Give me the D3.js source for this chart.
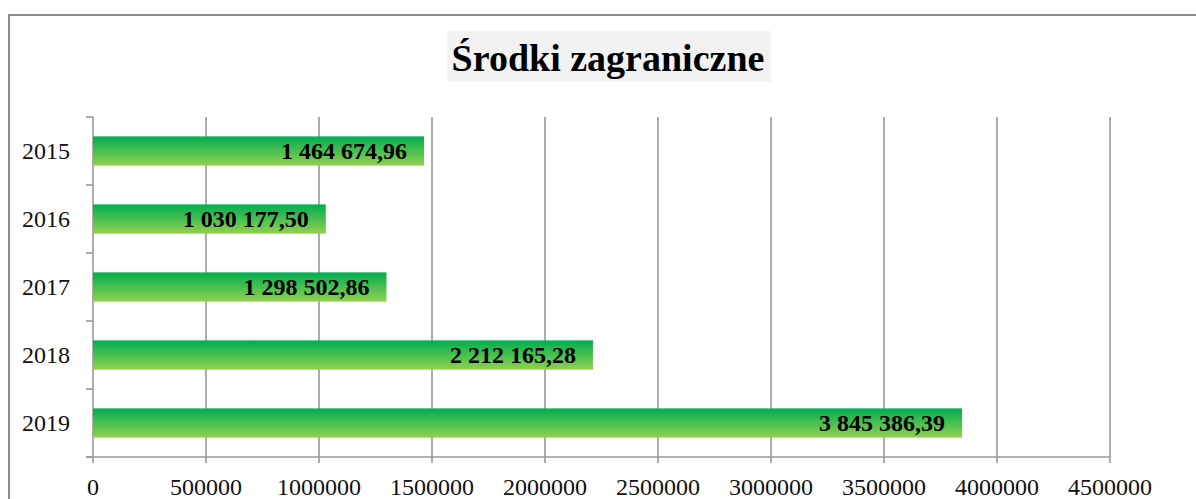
<!DOCTYPE html>
<html>
<head>
<meta charset="utf-8">
<script src="https://cdn.jsdelivr.net/npm/d3@7"></script>
<style>
  body { margin: 0; background: #fff; }
  svg { display: block; font-family: "Liberation Serif", "DejaVu Serif", serif; }
</style>
</head>
<body>
<svg class="chart" width="1196" height="499"></svg>
<script>
const years = ["2015", "2016", "2017", "2018", "2019"];
const values = [1464674.96, 1030177.50, 1298502.86, 2212165.28, 3845386.39];
const xTicks = [0, 500000, 1000000, 1500000, 2000000, 2500000, 3000000, 3500000, 4000000, 4500000];
const title = "Środki zagraniczne";

const data = years.map((y, i) => ({ year: y, value: values[i] }));

const svg = d3.select(".chart");
const width = 1196;
const height = 499;
const margin = { top: 117, right: 86, bottom: 42, left: 93 };
const graphWidth = width - margin.left - margin.right;
const graphHeight = height - margin.top - margin.bottom;

// outer chart frame (runs off the right/bottom of the picture)
svg.append("rect")
  .attr("x", 9).attr("y", 15)
  .attr("width", 1220).attr("height", 520)
  .attr("fill", "none")
  .attr("stroke", "#8c8c8c")
  .attr("stroke-width", 2);

const defs = svg.append("defs");
const grad = defs.append("linearGradient")
  .attr("id", "barGrad")
  .attr("x1", 0).attr("y1", 0).attr("x2", 0).attr("y2", 1);
grad.append("stop").attr("offset", "0%").attr("stop-color", "#00ae4f");
grad.append("stop").attr("offset", "100%").attr("stop-color", "#92d050");

// title with grey box
const titleG = svg.append("g");
titleG.append("rect")
  .attr("x", 447).attr("y", 31)
  .attr("width", 324).attr("height", 51)
  .attr("fill", "#f2f2f2");
titleG.append("text")
  .attr("x", 608).attr("y", 71)
  .attr("text-anchor", "middle")
  .style("font-size", "38px")
  .style("font-weight", "bold")
  .text(title);

const xScale = d3.scaleLinear()
  .domain([0, 4500000])
  .range([0, graphWidth]);

const yScale = d3.scaleBand()
  .domain(years)
  .range([0, graphHeight])
  .paddingInner(0.57)
  .paddingOuter(0.285);

const graph = svg.append("g")
  .attr("transform", `translate(${margin.left}, ${margin.top})`);

// vertical gridlines
graph.append("g")
  .selectAll("line")
  .data(xTicks)
  .enter()
  .append("line")
  .attr("x1", d => xScale(d)).attr("x2", d => xScale(d))
  .attr("y1", 0).attr("y2", graphHeight + 6)
  .attr("stroke", "#999")
  .attr("stroke-width", 1.6);

// bottom axis line
graph.append("line")
  .attr("x1", -7).attr("x2", graphWidth)
  .attr("y1", graphHeight).attr("y2", graphHeight)
  .attr("stroke", "#999")
  .attr("stroke-width", 1.6);

// y axis ticks between categories
const step = graphHeight / years.length;
graph.append("g")
  .selectAll("line")
  .data(d3.range(years.length + 1))
  .enter()
  .append("line")
  .attr("x1", -7).attr("x2", 0)
  .attr("y1", d => d * step).attr("y2", d => d * step)
  .attr("stroke", "#999")
  .attr("stroke-width", 1.6);

// x tick labels
graph.append("g")
  .selectAll("text")
  .data(xTicks)
  .enter()
  .append("text")
  .attr("x", d => xScale(d))
  .attr("y", graphHeight + 38)
  .attr("text-anchor", "middle")
  .style("font-size", "24px")
  .attr("fill", "#111")
  .text(d => d);

// year labels
graph.append("g")
  .selectAll("text")
  .data(data)
  .enter()
  .append("text")
  .attr("x", -23)
  .attr("y", d => yScale(d.year) + yScale.bandwidth() / 2 + 8)
  .attr("text-anchor", "end")
  .style("font-size", "24px")
  .attr("fill", "#111")
  .text(d => d.year);

// bars
graph.append("g")
  .selectAll("rect")
  .data(data)
  .enter()
  .append("rect")
  .attr("x", 0)
  .attr("y", d => yScale(d.year))
  .attr("width", d => xScale(d.value))
  .attr("height", yScale.bandwidth())
  .attr("fill", "url(#barGrad)");

const fmt = v => {
  const [int, dec] = v.toFixed(2).split(".");
  return int.replace(/\B(?=(\d{3})+(?!\d))/g, " ") + "," + dec;
};

// value labels
graph.append("g")
  .selectAll("text")
  .data(data)
  .enter()
  .append("text")
  .attr("x", d => xScale(d.value) - 17)
  .attr("y", d => yScale(d.year) + yScale.bandwidth() / 2 + 8)
  .attr("text-anchor", "end")
  .style("font-size", "24px")
  .style("font-weight", "bold")
  .attr("fill", "#000")
  .text(d => fmt(d.value));
</script>
</body>
</html>
